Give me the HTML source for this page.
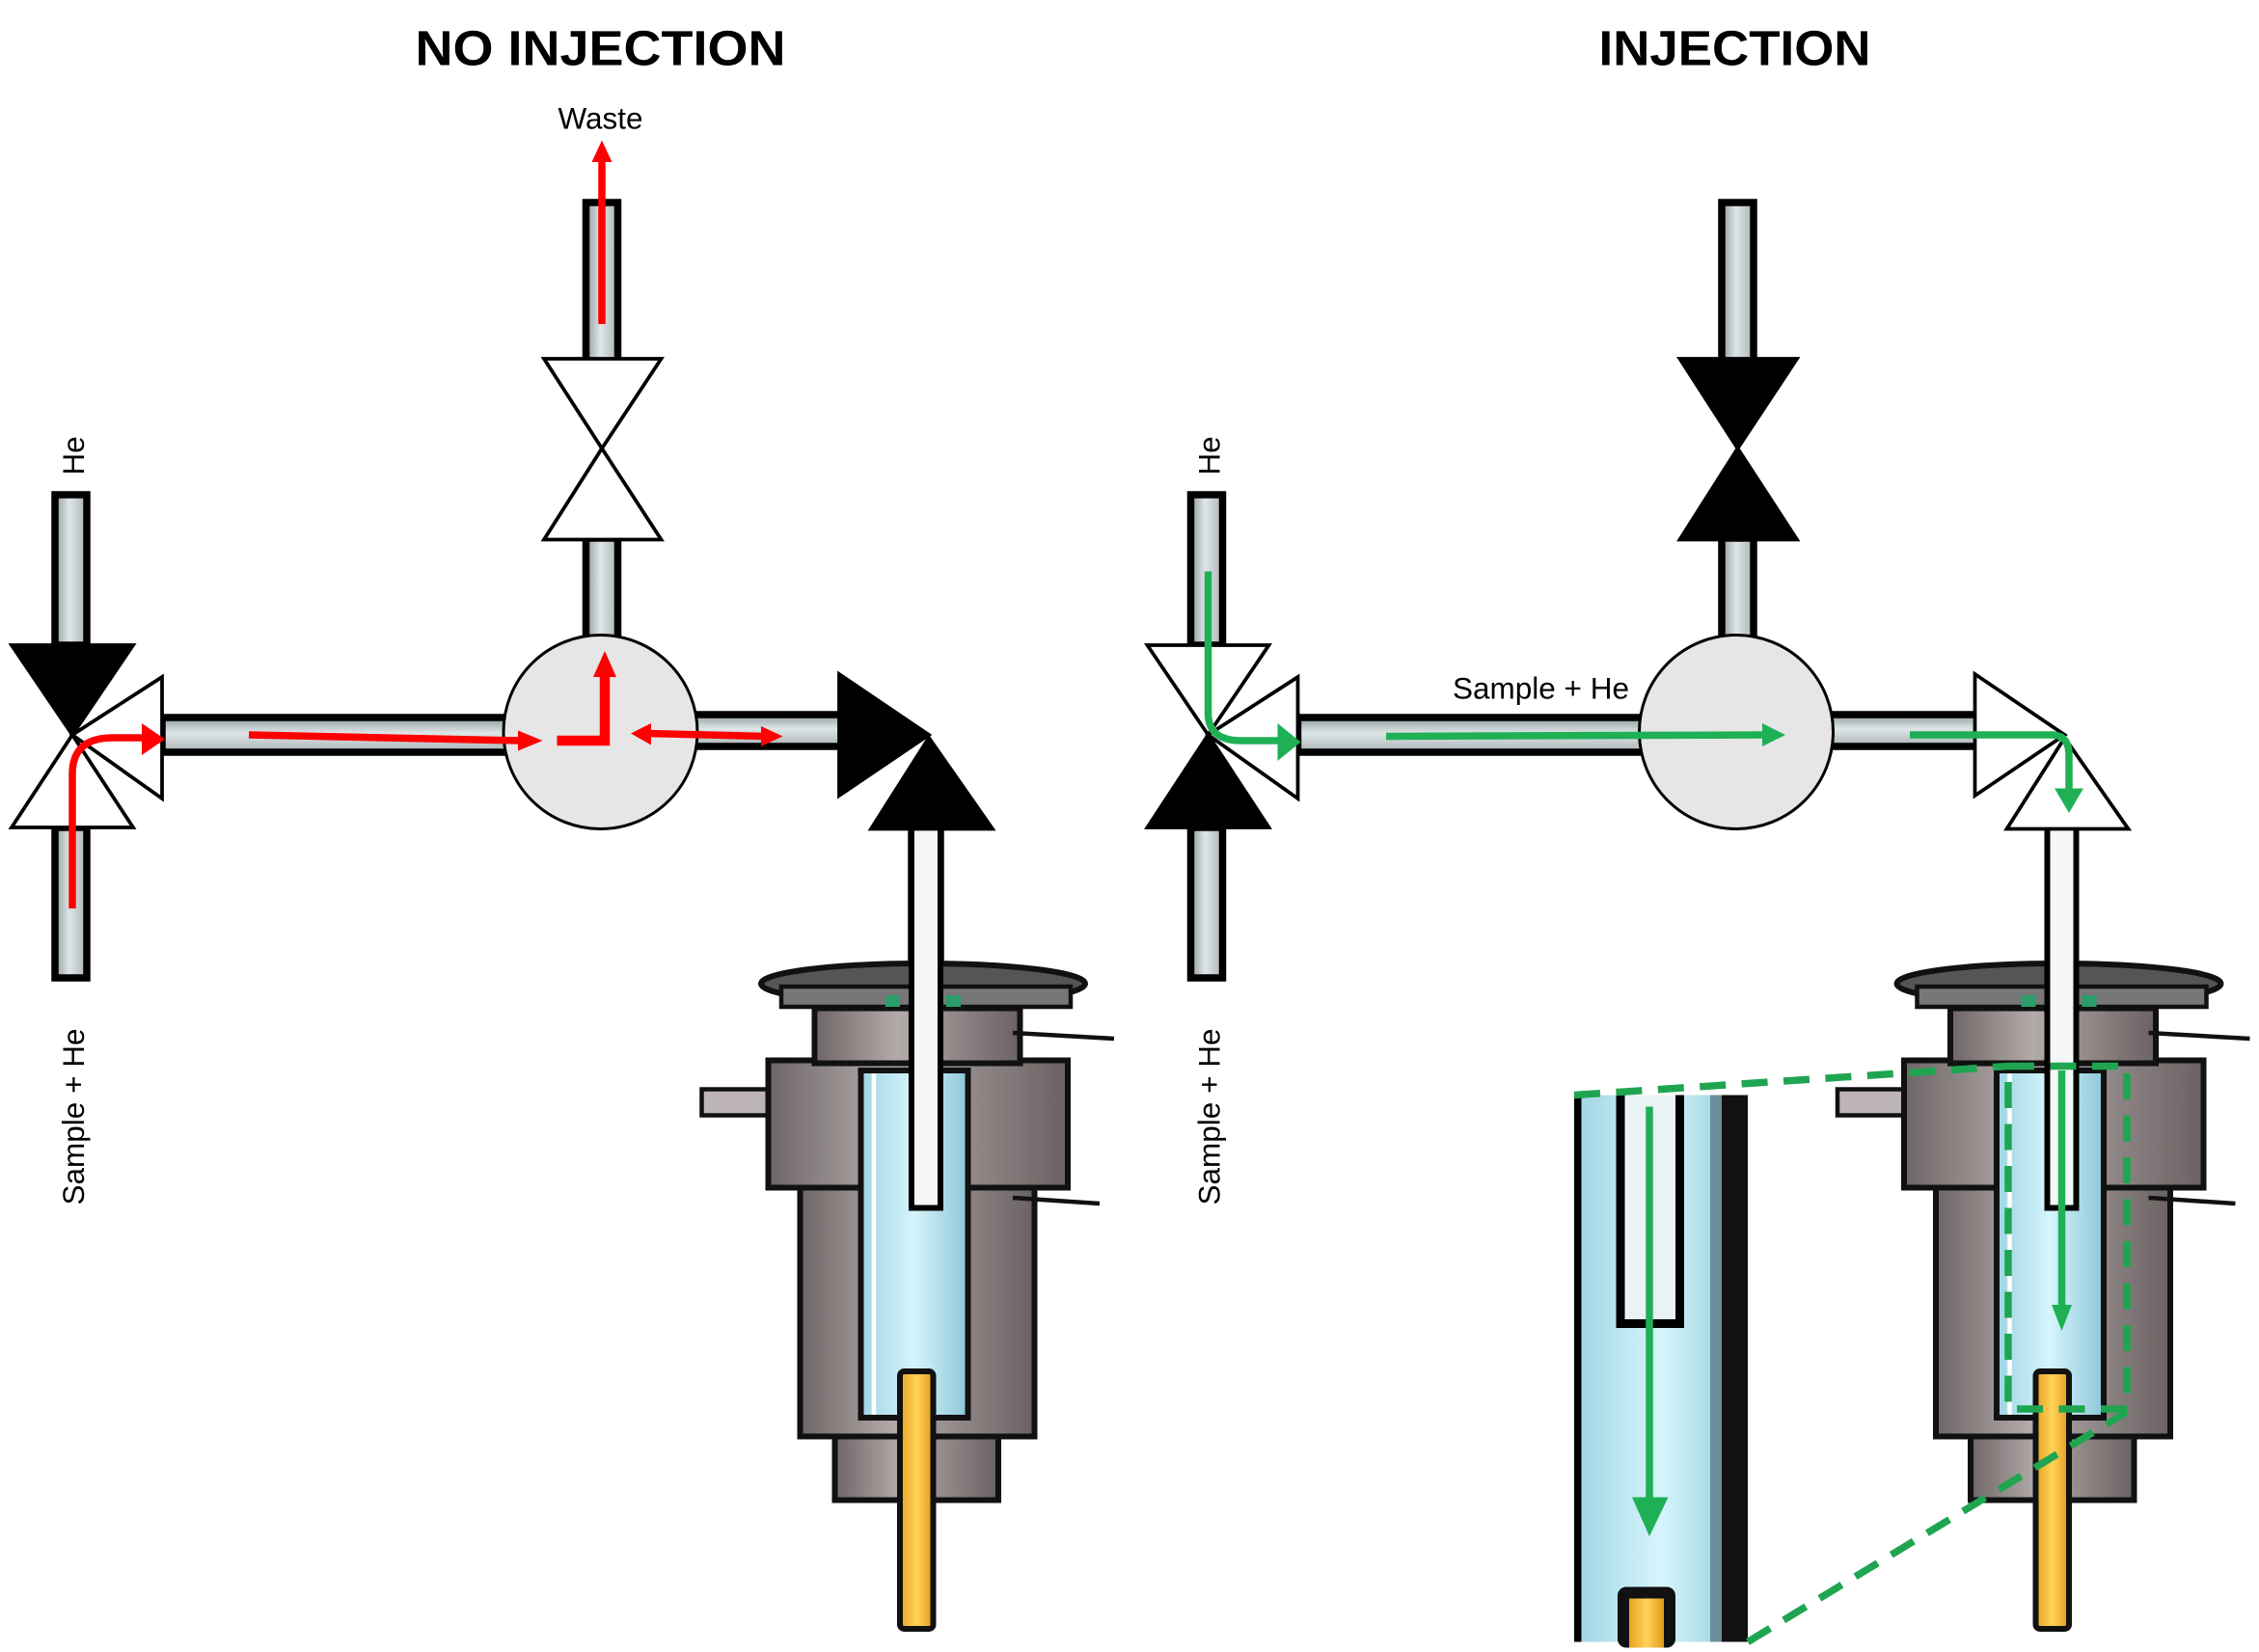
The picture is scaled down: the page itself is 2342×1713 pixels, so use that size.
<!DOCTYPE html>
<html><head><meta charset="utf-8"><style>html,body{margin:0;padding:0;background:#fff}svg{display:block}</style></head>
<body>
<svg width="2342" height="1713" viewBox="0 0 1561.33 1142" xmlns="http://www.w3.org/2000/svg" font-family="Liberation Sans, sans-serif">
<defs>
<linearGradient id="ph" x1="0" y1="0" x2="0" y2="1"><stop offset="0" stop-color="#8f999c"/><stop offset="0.45" stop-color="#dfe6e8"/><stop offset="1" stop-color="#a9b2b5"/></linearGradient>
<linearGradient id="pv" x1="0" y1="0" x2="1" y2="0"><stop offset="0" stop-color="#8f999c"/><stop offset="0.45" stop-color="#dfe6e8"/><stop offset="1" stop-color="#a9b2b5"/></linearGradient>
<linearGradient id="gr" x1="0" y1="0" x2="1" y2="0"><stop offset="0" stop-color="#6e6666"/><stop offset="0.4" stop-color="#b3aaaa"/><stop offset="1" stop-color="#6a6262"/></linearGradient>
<linearGradient id="bl" x1="0" y1="0" x2="1" y2="0"><stop offset="0" stop-color="#9fd4e4"/><stop offset="0.5" stop-color="#d6f5fc"/><stop offset="1" stop-color="#8cc6d8"/></linearGradient>
<linearGradient id="au" x1="0" y1="0" x2="1" y2="0"><stop offset="0" stop-color="#e8a21f"/><stop offset="0.5" stop-color="#ffd35a"/><stop offset="1" stop-color="#e29a1a"/></linearGradient>
<g id="chamber" stroke="#111" stroke-width="4">
  <rect x="577" y="985" width="113" height="52" fill="url(#gr)"/>
  <rect x="553" y="815" width="162" height="178" fill="url(#gr)"/>
  <rect x="485" y="753" width="80" height="18" fill="#bdb5b5" stroke-width="3"/>
  <line x1="700" y1="828" x2="760" y2="832" stroke-width="3"/>
  <rect x="531" y="733" width="207" height="88" fill="url(#gr)"/>
  <rect x="563" y="697" width="142" height="38" fill="url(#gr)"/>
  <line x1="700" y1="714" x2="770" y2="718" stroke-width="3"/>
  <ellipse cx="638" cy="680" rx="112" ry="14" fill="#555"/>
  <rect x="540" y="682" width="200" height="14" fill="#777" stroke-width="3"/>
  <rect x="595" y="740" width="74" height="240" fill="url(#bl)"/>
  <line x1="604" y1="742" x2="604" y2="978" stroke="#fff" stroke-width="3"/>
  <rect x="612" y="688" width="10" height="8" fill="#2a9d6a" stroke="none"/>
  <rect x="654" y="688" width="10" height="8" fill="#2a9d6a" stroke="none"/>
  <rect x="622" y="948" width="23" height="178" rx="3" fill="url(#au)"/>
</g>
</defs>

<!-- titles -->
<text x="415" y="45" font-size="34" font-weight="bold" text-anchor="middle" textLength="256" lengthAdjust="spacingAndGlyphs">NO INJECTION</text>
<text x="1199" y="45" font-size="34" font-weight="bold" text-anchor="middle" textLength="188" lengthAdjust="spacingAndGlyphs">INJECTION</text>
<text x="415" y="89" font-size="21" text-anchor="middle">Waste</text>
<text transform="translate(58,315) rotate(-90)" font-size="21" text-anchor="middle">He</text>
<text transform="translate(58,772) rotate(-90)" font-size="21" text-anchor="middle">Sample + He</text>
<text transform="translate(843,315) rotate(-90)" font-size="21" text-anchor="middle">He</text>
<text transform="translate(843,772) rotate(-90)" font-size="21" text-anchor="middle">Sample + He</text>

<!-- ===== LEFT PANEL ===== -->
<g stroke="#000" stroke-width="5">
  <rect x="405" y="140" width="22" height="110" fill="url(#pv)"/>
  <rect x="405" y="372" width="22" height="72" fill="url(#pv)"/>
  <rect x="38" y="342" width="22" height="104" fill="url(#pv)"/>
  <rect x="38" y="572" width="22" height="104" fill="url(#pv)"/>
  <rect x="112" y="496" width="240" height="24" fill="url(#ph)"/>
  <rect x="478" y="494" width="104" height="22" fill="url(#ph)"/>
  <rect x="630" y="572" width="20" height="265" fill="#f4f6f7"/>
</g>
<use href="#chamber"/>
<rect x="630" y="560" width="20" height="275" fill="#f4f6f7" stroke="#000" stroke-width="4"/>
<g stroke="#000" stroke-width="2.5" stroke-linejoin="miter">
  <polygon points="376,248 457,248 416,310" fill="#fff"/>
  <polygon points="376,373 457,373 416,310" fill="#fff"/>
  <polygon points="8,446 92,446 50,508" fill="#000"/>
  <polygon points="8,572 92,572 50,508" fill="#fff"/>
  <polygon points="112,468 112,552 50,508" fill="#fff"/>
  <polygon points="580,466 580,550 642,508" fill="#000"/>
  <polygon points="602,573 686,573 642,510" fill="#000"/>
</g>
<circle cx="415" cy="506" r="67" fill="#e6e6e6" stroke="#000" stroke-width="2"/>
<!-- red arrows -->
<g stroke="#f00" fill="none" stroke-width="5">
  <line x1="416" y1="224" x2="416" y2="110"/>
  <path d="M50,628 L50,535 Q50,510 78,510 L100,510"/>
  <line x1="172" y1="508" x2="360" y2="512"/>
  <path d="M385,512 L418,512 L418,465" stroke-width="7"/>
  <line x1="447" y1="507" x2="530" y2="509"/>
</g>
<g fill="#f00">
  <polygon points="409,112 423,112 416,97"/>
  <polygon points="98,500 98,522 114,511"/>
  <polygon points="358,505 358,519 375,512"/>
  <polygon points="410,468 426,468 418,450"/>
  <polygon points="450,500 450,515 436,507"/>
  <polygon points="526,502 526,516 541,509"/>
</g>

<!-- ===== RIGHT PANEL ===== -->
<g stroke="#000" stroke-width="5">
  <rect x="1190" y="140" width="22" height="110" fill="url(#pv)"/>
  <rect x="1190" y="372" width="22" height="72" fill="url(#pv)"/>
  <rect x="823" y="342" width="22" height="104" fill="url(#pv)"/>
  <rect x="823" y="572" width="22" height="104" fill="url(#pv)"/>
  <rect x="897" y="496" width="240" height="24" fill="url(#ph)"/>
  <rect x="1263" y="494" width="104" height="22" fill="url(#ph)"/>
</g>
<use href="#chamber" transform="translate(785,0)"/>
<rect x="1415" y="560" width="20" height="275" fill="#f4f6f7" stroke="#000" stroke-width="4"/>
<g stroke="#000" stroke-width="2.5">
  <polygon points="1161,248 1242,248 1201,310" fill="#000"/>
  <polygon points="1161,373 1242,373 1201,310" fill="#000"/>
  <polygon points="793,446 877,446 835,508" fill="#fff"/>
  <polygon points="793,572 877,572 835,508" fill="#000"/>
  <polygon points="897,468 897,552 835,508" fill="#fff"/>
  <polygon points="1365,466 1365,550 1427,508" fill="#fff"/>
  <polygon points="1387,573 1471,573 1427,510" fill="#fff"/>
</g>
<circle cx="1200" cy="506" r="67" fill="#e6e6e6" stroke="#000" stroke-width="2"/>
<text x="1065" y="483" font-size="21" text-anchor="middle">Sample + He</text>

<!-- inset -->
<rect x="1088" y="757" width="120" height="378" fill="url(#bl)"/>
<rect x="1088" y="757" width="5" height="378" fill="#000"/>
<rect x="1190" y="757" width="18" height="378" fill="#111"/>
<rect x="1182" y="757" width="8" height="378" fill="#6c8e98"/>
<path d="M1120,757 L1120,915 L1161,915 L1161,757" fill="#e9f3f6" stroke="#000" stroke-width="6"/>
<rect x="1118" y="1097" width="40" height="42" rx="6" fill="#111"/>
<rect x="1126" y="1105" width="24" height="34" fill="url(#au)"/>

<!-- green -->
<g stroke="#1fb055" fill="none" stroke-width="5">
  <path d="M835,395 L835,493 Q835,512 858,512 L885,512"/>
  <line x1="958" y1="509" x2="1220" y2="508"/>
  <path d="M1320,508 L1418,508 Q1430,508 1430,522 L1430,548"/>
  <line x1="1425" y1="740" x2="1425" y2="905"/>
  <line x1="1140" y1="765" x2="1140" y2="1040"/>
</g>
<g fill="#1fb055">
  <polygon points="883,500 883,526 899,513"/>
  <polygon points="1218,500 1218,516 1234,508"/>
  <polygon points="1420,545 1440,545 1430,562"/>
  <polygon points="1418,902 1432,902 1425,920"/>
  <polygon points="1128,1035 1153,1035 1140,1062"/>
</g>
<g stroke="#1fa550" stroke-width="5" fill="none" stroke-dasharray="18,11">
  <rect x="1388" y="737" width="82" height="237"/>
  <line x1="1088" y1="757" x2="1388" y2="737"/>
  <line x1="1208" y1="1135" x2="1470" y2="976"/>
</g>
</svg>
</body></html>
